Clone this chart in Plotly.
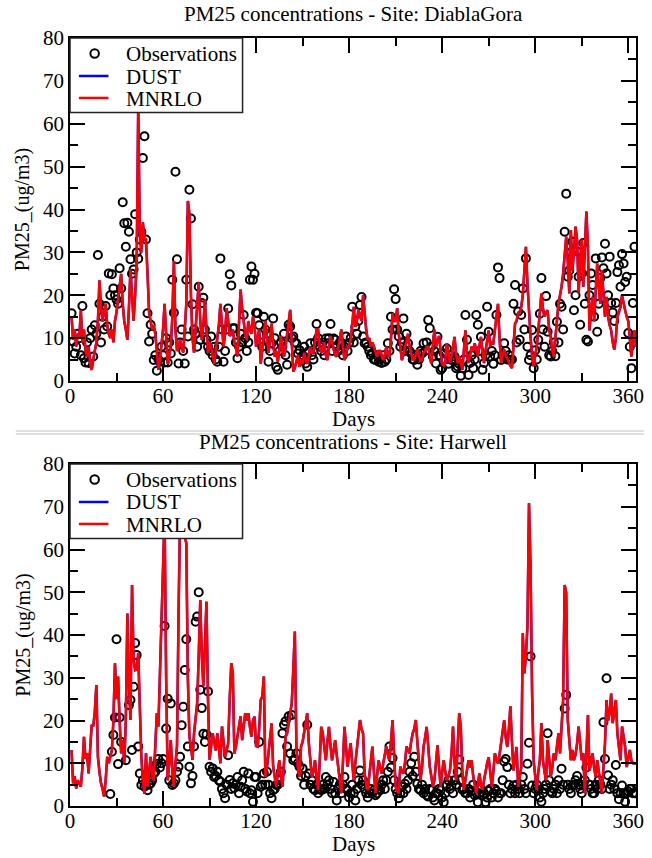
import plotly.graph_objects as go

# ---------------- data ----------------
days = list(range(1, 366))

# Site DiablaGora : model MNRLO (daily)
mnrlo_top = (
    [15, 9.6, 12, 8, 11, 10, 16.5, 9, 12, 7] +
    [5.7, 8, 4, 2.6, 5, 7, 9, 14, 23.5, 17] +
    [14, 16, 18, 13, 11, 10, 12, 9, 14, 16] +
    [19, 22, 25, 18, 14, 12, 9.6, 17, 26, 20] +
    [14, 20, 27.4, 64, 35, 30, 37, 33, 33, 25] +
    [16, 14, 12, 13, 11, 7, 2.6, 5, 8, 12] +
    [18, 9, 4, 6, 8, 15, 28, 12, 7, 8] +
    [9.6, 8, 6.6, 12, 18, 42, 39, 20, 10, 6.6] +
    [12, 16, 23, 14, 9.6, 13, 19, 12, 6.6, 9] +
    [8, 6, 4, 7, 10, 13, 18, 12, 8, 11] +
    [17, 14, 10.5, 11, 12, 9, 8, 5.7, 12, 21.3] +
    [17, 14, 11, 9.6, 14, 12, 11, 15, 13, 8] +
    [10, 12, 4, 7, 9.6, 14, 10, 6.6, 9, 13.4] +
    [9, 5.7, 7, 4.5, 7, 10.5, 8, 5.7, 8, 10.5] +
    [13, 16.6, 9, 2.2, 3, 4.5, 6, 3.3, 5, 4] +
    [6.6, 5, 4, 6, 8, 6.6, 6.6, 9, 12, 12] +
    [8, 6.6, 8, 9, 6, 4.9, 8, 10.5, 9, 7.4] +
    [6, 5.7, 8, 10, 12, 8, 4.9, 6, 8, 8] +
    [9.6, 13, 17.3, 12.6, 14, 16.6, 15, 14, 20, 15] +
    [12, 9.6, 10, 8, 9, 8, 7, 5.7, 7, 7] +
    [6, 4.9, 6, 8, 6, 5.7, 10, 15.8, 14, 14] +
    [17, 11, 8, 4.9, 6, 8, 9, 11, 8, 6.6] +
    [5, 4.9, 6, 7.4, 6, 4.5, 5, 6.6, 7, 8] +
    [8, 6, 4, 8, 12, 8, 9, 10.5, 7, 4] +
    [3.3, 4.2, 8.8, 6, 4.2, 5.7, 8, 10.3, 6, 4.2] +
    [5.7, 4, 2.6, 7, 11.8, 6, 4.2, 6, 8, 7] +
    [8.8, 7, 5.7, 8, 10.3, 7, 4.2, 7, 9, 11.8] +
    [8, 9, 8.8, 12, 15, 18, 10, 4.2, 6, 7.3] +
    [6, 5, 4, 3.5, 3, 8, 13.4, 14, 15.8, 16] +
    [17.3, 20, 27.4, 31.3, 22.8, 15, 10.3, 6, 3.4, 6] +
    [8, 11.8, 16, 20.4, 17, 15, 16, 16.5, 12, 10.3] +
    [7, 5.7, 10, 15, 18, 20, 22, 25, 29, 33.7] +
    [28, 20.4, 35.2, 25.8, 30, 36, 33, 20.4, 28, 33] +
    [22, 30, 39.5, 31.3, 11.8, 16, 19.6, 14, 20, 27.4] +
    [22, 18, 25.8, 20, 15, 19.6, 15, 13, 11.8, 9] +
    [7.3, 10, 15, 16, 17.3, 20, 18, 16.5, 15, 14] +
    [10, 5.7, 9, 11.8, 8]
)
# DUST run coincides with MNRLO at this site (only hidden under the red line)
dust_top = list(mnrlo_top)

# Site DiablaGora : observations (daily)
obs_top = (
    [15.8, 9.2, 6.4, 8, 11, 10, 6, 17.5, 5.3, 4.3] +
    [9, 4.2, 10, 12, 5.7, 13, 11, 29.4, 18, 9] +
    [15, 12, 17.5, 12.7, 25.1, 20, 24.9, 21.6, 20, 19] +
    [18, 26.3, 21.6, 41.7, 36.8, 31.3, 36.9, 34.8, 28.4, 25] +
    [26, 38.9, 30, 28.5, 33, 34.8, 52, 57.1, 33, 15.8] +
    [9.2, 13.1, 11, 4.9, 6, 2.4, 5, 4.5, 8, 6] +
    [4.3, 10, 4.3, 9, 6.4, 23.6, 15.9, 48.8, 28.4, 4.1] +
    [9, 12, 7, 4.1, 23.6, 10.4, 44.6, 37.9, 17.9, 12] +
    [11, 8, 22, 9.6, 18.2, 19.4, 12, 9.6, 8, 7] +
    [10.4, 6, 8, 5, 4.5, 8, 28.6, 12, 4.5, 7] +
    [12, 16.9, 24.9, 22.3, 12.3, 12.3, 9, 5.3, 8, 11] +
    [9, 15.4, 10, 7, 9, 23.6, 26.7, 23.6, 25, 15.9] +
    [15.8, 13, 9, 8, 15, 12, 11, 4.5, 7, 8.8] +
    [14.6, 10, 3.3, 2.6, 7, 9, 8, 11, 6, 3.8] +
    [13.1, 12.7, 10, 10.4, 9, 8.8, 6.4, 7.2, 4.9, 6] +
    [8, 4.1, 3.3, 7, 8.8, 6, 5, 9, 13.3, 10] +
    [8, 7, 9, 6, 9.9, 8.8, 10, 13.3, 7, 9.9] +
    [9.6, 8, 7, 9, 8.8, 6, 8, 10.4, 7, 8.8] +
    [10, 17.3, 9, 12.7, 11, 14, 17.7, 19.6, 10.4, 8.8] +
    [9, 8, 7, 6, 6.4, 5, 4.9, 6, 4.5, 5] +
    [4.2, 6, 4.5, 5, 8.8, 7, 15, 12, 21.4, 19.1] +
    [12, 10.4, 8, 9, 14.6, 7, 11, 8.8, 7, 6.4] +
    [5, 4.9, 6, 3.8, 5, 7, 6.4, 8.8, 7, 9] +
    [14.2, 12.3, 8, 5.7, 7, 4.1, 10.3, 6, 2.6, 3] +
    [6.4, 5, 7.6, 4, 6, 4.9, 5, 5.7, 3, 3.4] +
    [4, 1.2, 3, 5, 15.4, 9.6, 1.4, 4.2, 6, 3] +
    [5, 15.4, 13.1, 7, 10.3, 2.6, 4.2, 6, 17.3, 11.5] +
    [5.7, 7, 4, 6, 15.4, 26.5, 24, 4.9, 6, 8.8] +
    [7, 5, 6, 4.9, 5, 18, 22.4, 9, 16.2, 9.6] +
    [15.4, 21.6, 12, 28.6, 8, 4.9, 6, 11.9, 3, 7.2] +
    [5, 9.6, 15.7, 24, 12, 8, 19.8, 11.5, 6, 5.7] +
    [7, 9, 5.8, 13.8, 9, 18, 17.3, 12, 34.8, 43.7] +
    [24.3, 25.8, 30, 32.5, 16.5, 20, 30.2, 24.3, 13.1, 25.1] +
    [32.2, 18, 9.6, 9.2, 20, 25.1, 22.4, 15, 28.6, 11.5] +
    [18, 24, 28.8, 26.3, 32, 25.1, 20, 29, 18.2, 16] +
    [14, 18.2, 25.4, 27, 22, 29.6, 27.4, 23.1, 24.3, 11.2] +
    [8, 3, 18.2, 31.3, 10]
)

# Site Harwell : model MNRLO (daily)
mnrlo_bot = (
    [13.1, 5.3, 7, 4.1, 6, 5.3, 4.5, 9, 16.2, 11] +
    [12.3, 7.6, 14, 19, 18.6, 22, 28.3, 11.5, 8, 5.3] +
    [4, 2.2, 6, 11.5, 10, 12, 13.1, 20, 33.4, 25] +
    [30.3, 20, 12.3, 15.4, 10, 20, 45, 28.7, 20.1, 51.7] +
    [34.2, 31.8, 32, 35.7, 20, 11.5, 6, 2.9, 12.3, 4.5] +
    [8, 11.5, 7, 6, 14, 21.7, 18.6, 30, 40, 52.5] +
    [68, 30, 6, 10, 15.4, 8, 4.5, 10, 14, 45] +
    [68, 66, 68, 63, 61.5, 30, 16.2, 14, 10.8, 17] +
    [20, 24, 35, 48.2, 35, 28, 38, 47.8, 25, 10.8] +
    [14, 17, 15, 13, 17, 14, 10, 18.6, 15, 11.5] +
    [13, 14.6, 25, 33.4, 31, 12.3, 14, 16.2, 18, 21] +
    [15.4, 19, 21.7, 20, 21.7, 18.6, 16.2, 20.1, 20.9, 14] +
    [13.9, 18, 24.8, 25.6, 30.3, 6.8, 9, 12.3, 16, 19.3] +
    [9.2, 7, 4.5, 8, 10.7, 7, 4.5, 10, 16.2, 17] +
    [19.3, 21, 24, 32, 40.8, 13.9, 9, 6.8, 13.9, 15] +
    [17, 19, 21.7, 14.7, 10, 6.8, 8, 10.7, 7, 3.7] +
    [10, 18.5, 17, 14, 10.7, 15, 18.5, 14, 10.7, 13] +
    [15.4, 12, 9.2, 6, 3, 10, 18.5, 14, 9.2, 12] +
    [14.7, 10, 6, 10, 13.9, 16, 20.1, 18, 17, 7.6] +
    [5, 3.7, 7.6, 10, 13.9, 8, 3, 7, 10.7, 9] +
    [7.6, 10, 12, 13.9, 12, 10.7, 15, 20.1, 12, 4.5] +
    [3.5, 3, 9.2, 8, 7.6, 10, 13.9, 13, 12.3, 15] +
    [17, 18, 20.1, 15, 10.7, 6, 9, 13.9, 16, 18.5] +
    [14, 9.2, 7, 4.5, 6, 10, 14.2, 9, 4.5, 8] +
    [10.7, 8, 6, 7, 8.3, 12, 18.6, 10, 6, 14] +
    [21.7, 18.6, 8, 3.8, 6, 8, 10.7, 9, 10.7, 7] +
    [5, 3, 5, 7.6, 5, 3.8, 6, 8.3, 10, 11.4] +
    [8, 4.5, 8, 12.3, 11, 9.9, 12, 14.6, 17, 20.1] +
    [16, 13.8, 18, 23.3, 15, 8.3, 11, 13.8, 4.5, 7] +
    [9.1, 40.4, 31, 35, 42, 70.8, 56, 26.3, 10.7, 7] +
    [3.8, 8, 10.7, 19.4, 10.7, 8, 6, 15.4, 10, 6.8] +
    [9, 12.3, 10.7, 14, 17, 12.3, 18, 24.8, 51.7, 49.8] +
    [20.1, 15, 10.7, 13.1, 10.7, 12, 14.6, 18.6, 14, 10.7] +
    [12.3, 3, 12, 21.3, 8.3, 10, 12.3, 9, 6.8, 10.7] +
    [8, 6, 3, 9, 14.6, 24.8, 20, 21.7, 26.3, 19.4] +
    [22, 24.8, 17, 14, 10.7, 18.6, 16, 13.8, 9.1, 11] +
    [13.1, 10.7, 10, 9.9, 10]
)
dust_bot = list(mnrlo_bot)

# Site Harwell : observations (daily, none before day 26)
obs_bot = (
    [None] * 25 +
    [2.8, 12.7, 16.6, 20.7, 39] +
    [9.8, 20.7, 15, None, None, 10.7, None, 23.6, 24.8, 13.1] +
    [27.9, 38.1, 35.3, 13.9, 7.6, 4.9, 6, 4.5, 5, 3.7] +
    [5, 5.3, 6, 7.6, 8, 9.9, 11, 9, 10, 11] +
    [42.1, 18.1, 25.1, 6, 24, 4.9, 5.3, 6, 8, 9.2] +
    [11.5, 18.9, 23.2, 31.8, 39, 13.9, 9.2, 5.3, 7, 13.9] +
    [43.1, 44.3, 50, 27.2, 22.9, 16.9, 15, 16.7, 26.8, 9.2] +
    [8, 8.8, 6.8, 7, 8, 6, 5.7, 4, 3, 1.8] +
    [5, 11.9, 6.1, 4, 5.3, 4.2, 5, 6.8, 3, 4.5] +
    [6, 8, 4, 3.4, 7.6, 3, 3.7, 1, 6.8, 6.8] +
    [3, 15, 4.5, 5, 7.6, 5, 8, 5, 3, 1.8] +
    [3.7, 4, 4.9, 5, 6, 8, 17, 19, 19.8, 13.9] +
    [21, 12.3, 21.3, 10.7, 11, 12.3, 10, 9.2, 7, 8.8] +
    [5, 7, 19, 7.6, 5, 6, 4, 3.7, 5, 3] +
    [4, 3.7, 5, 4, 6.8, 5, 6, 4, 3, 5.6] +
    [3, 1.3, 4, 5, 3, 5, 6.8, 4, 3.7, 2] +
    [3, 5, 3, 1.3, 4, 6, 8.3, 5, 6, 4] +
    [3, 2, 3, 4, 3, 3.7, 2.5, 3, 4, 3.7] +
    [5, 6, 4, 6, 8, 13.9, 9, 11.2, 6, 4] +
    [3, 1.8, 3, 4.5, 3, 5.2, 4, 6, 8, 10] +
    [7, 11.5, 8, 5.2, 4, 3.7, 5, 3, 4, 2.5] +
    [2.2, 4, 3.7, 2, 1.3, 3, 3, 4, 3.7, 2] +
    [0.9, 3, 5, 6, 4, 4.8, 3, 6, 5, 8] +
    [10.9, 6, 3.8, 4, 3, 3, 4, 2, 3.5, 5] +
    [2.5, 3, 0.9, 3, 4, 2.5, 3, 0.9, 2, 3.5] +
    [4, 2, 3, 4, 3.5, 2, 3, 3, 6, 10.4] +
    [11, 9.1, 5, 3, 4, 4.8, 3, 5, 4, 3] +
    [5, 6.8, 4, 3, 9.9, 14.8, 35, 4.8, 3, 4] +
    [5, 3.8, 2, 1, 3, 4, 5, 17, 6, 3.4] +
    [3, 4, 5, 3, 6, 4, 8.7, 5, 22.8, 26] +
    [5, 4, 3, 4.8, 5, 6, 7, 5, 4, 3] +
    [5, 6, 9, 10.7, 5, 4, 3, 3, 5, 4] +
    [6, 5, 4, 19.6, 11, 29.9, 7.2, 4, 5, 6] +
    [4, 9.6, 3, 1.6, 3, 4.8, 3, 1, 3, 3.4] +
    [4, 4, 3, 3, 3]
)

titles = ["PM25 concentrations - Site: DiablaGora", "PM25 concentrations - Site: Harwell"]
series_names = ["Observations", "DUST", "MNRLO"]
x_ticks = [0, 60, 120, 180, 240, 300, 360]
y_ticks = [0, 10, 20, 30, 40, 50, 60, 70, 80]

for arr in (mnrlo_top, obs_top, mnrlo_bot, obs_bot):
    assert len(arr) == 365, len(arr)

# ---------------- geometry (page pixels; page body margin removed) ----------------
FONT = "Liberation Serif"
FW, FH = 652, 858
PL, PR, PT, PB = 70, 644, 38, 806          # plot area in page pixels
ML, MR, MT, MB = PL, FW - PR, PT, FH - PB


def px(xpage):
    return (xpage - PL) / (PR - PL)


def py(ypage):
    return (PB - ypage) / (PB - PT)


BLACK = "black"
fig = go.Figure()

panels = [
    ("x", "y", obs_top, dust_top, mnrlo_top),
    ("x2", "y2", obs_bot, dust_bot, mnrlo_bot),
]
for xa, ya, obs, dust, mnrlo in panels:
    fig.add_trace(go.Scatter(
        x=days, y=obs, mode="markers", name=series_names[0], showlegend=False,
        marker=dict(symbol="circle-open", size=8, color=BLACK, line=dict(width=2, color=BLACK)),
        xaxis=xa, yaxis=ya))
    fig.add_trace(go.Scatter(
        x=days, y=dust, mode="lines", name=series_names[1], showlegend=False,
        line=dict(color="#0000ff", width=2.5), xaxis=xa, yaxis=ya))
    fig.add_trace(go.Scatter(
        x=days, y=mnrlo, mode="lines", name=series_names[2], showlegend=False,
        line=dict(color="#ff0000", width=2.5), xaxis=xa, yaxis=ya))

axis_common = dict(
    showline=True, linecolor=BLACK, linewidth=1.5, mirror="allticks",
    ticks="inside", ticklen=15, tickwidth=1.5, tickcolor=BLACK,
    showgrid=False, zeroline=False,
    tickfont=dict(family=FONT, size=21, color=BLACK),
)
xax = dict(axis_common, range=[0, 365], tickmode="array", tickvals=x_ticks,
           ticktext=[str(v) for v in x_ticks], ticklabelstandoff=-5,
           minor=dict(dtick=30, tick0=0, ticklen=8, tickwidth=1.5, tickcolor=BLACK, ticks="inside"))
yax = dict(axis_common, range=[0, 80], tickmode="array", tickvals=y_ticks,
           ticktext=[str(v) for v in y_ticks],
           minor=dict(dtick=5, tick0=0, ticklen=8, tickwidth=1.5, tickcolor=BLACK, ticks="inside"))

top_dom = [py(381), 1.0]
bot_dom = [0.0, py(464)]

fig.update_layout(
    width=FW, height=FH,
    margin=dict(l=ML, r=MR, t=MT, b=MB),
    paper_bgcolor="white", plot_bgcolor="white",
    font=dict(family=FONT, size=20, color=BLACK),
    xaxis=dict(xax, domain=[0, 1], anchor="y"),
    yaxis=dict(yax, domain=top_dom, anchor="x"),
    xaxis2=dict(xax, domain=[0, 1], anchor="y2"),
    yaxis2=dict(yax, domain=bot_dom, anchor="x2"),
    showlegend=False,
)

ann = []
shapes = []
ann.append(dict(text=titles[0], x=0.5, y=py(14), xref="paper", yref="paper",
                showarrow=False, font=dict(family=FONT, size=21), yanchor="middle"))
ann.append(dict(text=titles[1], x=0.5, y=py(442), xref="paper", yref="paper",
                showarrow=False, font=dict(family=FONT, size=21), yanchor="middle"))
for ypix in (419, 844):
    ann.append(dict(text="Days", x=0.5, y=py(ypix), xref="paper", yref="paper",
                    showarrow=False, font=dict(family=FONT, size=21), yanchor="middle"))
for ypix in ((38 + 381) / 2, (464 + 806) / 2):
    ann.append(dict(text="PM25_(ug/m3)", x=px(22), y=py(ypix), xref="paper", yref="paper",
                    showarrow=False, textangle=-90, font=dict(family=FONT, size=20),
                    xanchor="center", yanchor="middle"))

# legend boxes (one per graph), drawn like the reference legend
for dy in (0, 426):
    shapes.append(dict(type="rect", xref="paper", yref="paper", layer="above",
                       x0=px(70), x1=px(245), y0=py(112.5 + dy), y1=py(38 + dy),
                       fillcolor="white", line=dict(color="#222222", width=1.5)))
    shapes.append(dict(type="circle", xref="paper", yref="paper", layer="above",
                       x0=px(95 - 4.3), x1=px(95 + 4.3), y0=py(53.5 + 4.3 + dy), y1=py(53.5 - 4.3 + dy),
                       line=dict(color=BLACK, width=2)))
    shapes.append(dict(type="line", xref="paper", yref="paper", layer="above",
                       x0=px(79), x1=px(109), y0=py(76 + dy), y1=py(76 + dy),
                       line=dict(color="#0000ff", width=2.5)))
    shapes.append(dict(type="line", xref="paper", yref="paper", layer="above",
                       x0=px(79), x1=px(109), y0=py(98 + dy), y1=py(98 + dy),
                       line=dict(color="#ff0000", width=2.5)))
    for name, yrow in zip(series_names, (54, 76.5, 99)):
        ann.append(dict(text=name, x=px(125), y=py(yrow + dy), xref="paper", yref="paper",
                        showarrow=False, xanchor="left", yanchor="middle",
                        font=dict(family=FONT, size=21, color=BLACK)))

# etched separator between the two graphs
for ypix in (431, 434):
    shapes.append(dict(type="line", xref="paper", yref="paper",
                       x0=px(15), x1=px(652), y0=py(ypix), y1=py(ypix),
                       line=dict(color="#c0c0c0", width=1)))

fig.update_layout(annotations=ann, shapes=shapes)
fig.write_html("out.html", config={"displayModeBar": False},
               post_script="document.body.style.margin='0px';document.body.style.overflow='hidden';")
